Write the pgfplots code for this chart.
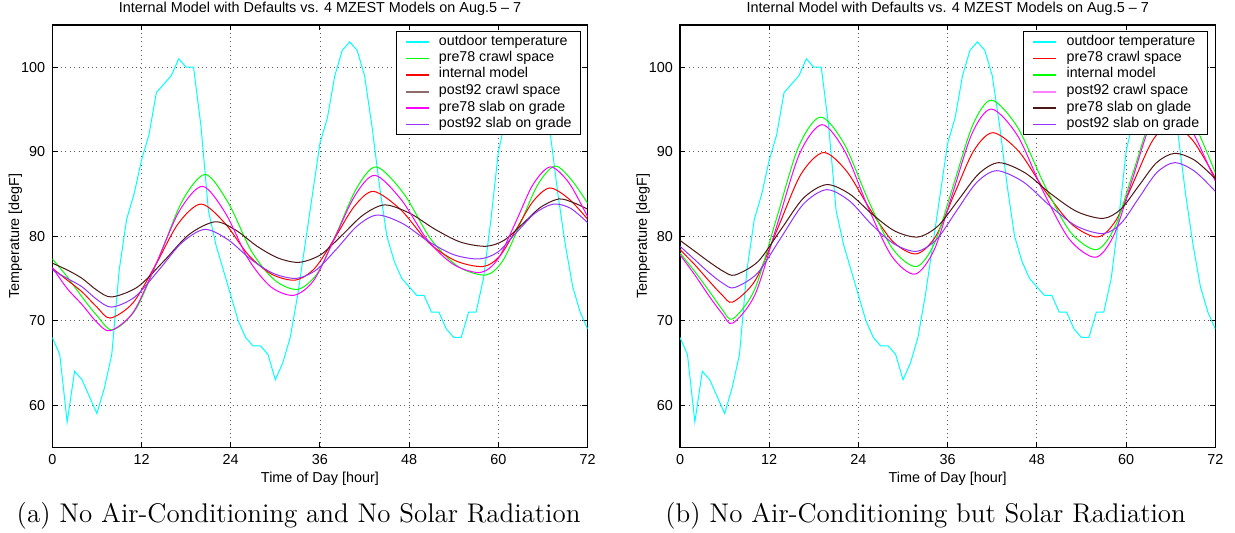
\documentclass[border=0pt]{standalone}
\usepackage{fontspec}
\newfontfamily\helv{Liberation Sans}
\usepackage{pgfplots}
\usepackage{pgfplotstable}
\pgfplotsset{compat=1.18}
\definecolor{cyanL}{rgb}{0,1,1}
\definecolor{greenL}{rgb}{0,1,0}
\definecolor{redL}{rgb}{1,0,0}
\definecolor{brownL}{rgb}{0.3,0.09,0.09}
\definecolor{brownLeg}{rgb}{0.55,0.42,0.42}
\definecolor{magL}{rgb}{1,0,1}
\definecolor{magLeg}{rgb}{1,0.5,1}
\definecolor{purL}{rgb}{0.58,0.2,1}
\newcommand\pf{\helv\fontsize{7.2}{8.6}\selectfont}

\pgfplotstableread{
h v
0 68
1 66
2 58
3 64
4 63
5 61
6 59
7 62
8 66
9 76
10 82
11 85
12 89
13 92
14 97
15 98
16 99
17 101
18 100
19 100
20 93
21 83
22 79
23 76
24 73
25 70
26 68
27 67
28 67
29 66
30 63
31 65
32 68
33 73
34 79
35 85
36 91
37 94
38 99
39 102
40 103
41 102
42 99
43 93
44 86
45 80
46 77
47 75
48 74
49 73
50 73
51 71
52 71
53 69
54 68
55 68
56 71
57 71
58 75
59 82
60 90
61 94
62 97
63 99
64 100
65 99
66 96
67 92
68 85
69 79
70 74
71 71
72 69
}\outdoor

\pgfplotsset{matlab/.style={
  scale only axis, width=267.65pt, height=211.15pt,
  xmin=0, xmax=72, ymin=55, ymax=105,
  xtick={0,12,...,72}, ytick={60,70,...,100},
  grid=major,
  grid style={dash pattern=on 0.5pt off 1.7pt, color=black!65},
  tick align=inside, major tick length=2.6pt,
  tick style={black, line width=0.5pt},
  axis line style={line width=0.7pt},
  /pgf/number format/assume math mode=true,
  ticklabel style={font=\pf},
  label style={font=\pf},
  every axis title/.style={at={(0.5,1)}, anchor=base, yshift=6pt, font=\pf},
  xlabel style={yshift=3pt},
  ylabel style={at={(axis description cs:-0.069,0.5)}, anchor=center},
  xlabel={Time of Day [hour]},
  ylabel={Temperature [degF]},
  title={Internal Model with Defaults vs. 4 MZEST Models on Aug.5 – 7},
  legend cell align=left,
  legend image code/.code={\draw[##1] (0pt,0pt) -- (11.5pt,0pt);},
  legend style={at={(1,1)}, anchor=north east, xshift=-3.45pt, yshift=-3.15pt,
    font=\helv\fontsize{7.1}{8.25}\selectfont, draw=black, line width=0.5pt,
    inner xsep=4.3pt, inner ysep=1pt, row sep=0pt,
    nodes={inner sep=0pt, text height=5.6pt, text depth=2.65pt},
    /tikz/column sep=4.6pt},
  every axis plot/.append style={line width=0.5pt, smooth},
}}

\begin{document}
\begin{tikzpicture}
\useasboundingbox (0,0) rectangle (617.5pt,266.5pt);

\begin{axis}[matlab, at={(26.15pt,42.85pt)}, anchor=south west]
\addplot[cyanL, sharp plot, forget plot] table[x=h,y=v] {\outdoor};
\addplot[greenL, forget plot] coordinates {(0,77.3)(2,75.2)(4,72.8)(6,70.6)(8.1,68.9)(11.2,71.3)(14.35,77.5)(17.5,84.2)(20.6,87.3)(23.7,83.9)(26.8,78.2)(29.9,74.8)(33.0,73.7)(35.65,75.6)(38.3,80.5)(40.95,85.7)(43.6,88.2)(47.3,85.0)(50.95,79.6)(54.6,76.4)(58.3,75.4)(60.6,77.1)(62.95,81.5)(65.3,86.1)(67.6,88.3)(69.8,86.7)(72,83.9)};
\addplot[redL, forget plot] coordinates {(0,76.2)(2,74.8)(4,73.4)(6,71.6)(7.8,70.3)(10.85,72.1)(13.9,76.6)(16.95,81.5)(20.0,83.8)(23.2,81.55)(26.35,77.8)(29.5,75.5)(32.7,74.8)(35.3,76.2)(37.95,79.7)(40.6,83.5)(43.2,85.3)(46.9,83.1)(50.55,79.3)(54.2,77.1)(57.9,76.4)(60.15,77.6)(62.4,80.8)(64.65,84.1)(66.9,85.7)(69.5,84.4)(72,82.0)};
\addplot[brownL, forget plot] coordinates {(0,76.8)(2,76.0)(4,75.0)(6,73.6)(8.0,72.8)(11.5,74.0)(14.95,77.0)(18.4,80.2)(21.9,81.7)(24.7,80.7)(27.55,78.8)(30.4,77.4)(33.2,76.9)(36.1,77.8)(38.95,80.1)(41.8,82.5)(44.7,83.7)(48.1,82.7)(51.5,80.8)(54.9,79.3)(58.3,78.8)(60.75,79.5)(63.2,81.4)(65.65,83.4)(68.1,84.4)(70,84.0)(72,83.2)};
\addplot[magL, forget plot] coordinates {(0,76.3)(2,73.8)(4,71.9)(6,69.8)(7.8,68.8)(10.9,71.0)(14.0,76.8)(17.1,83.0)(20.2,85.9)(23.3,82.7)(26.35,77.3)(29.4,74.0)(32.5,73.0)(35.2,74.8)(37.95,79.7)(40.7,84.8)(43.4,87.2)(46.95,84.3)(50.5,79.5)(54.05,76.6)(57.6,75.7)(59.95,77.3)(62.3,81.6)(64.65,86.1)(67.0,88.2)(69.5,86.3)(72,82.3)};
\addplot[purL, forget plot] coordinates {(0,76.0)(2,75.0)(4,74.0)(6,72.5)(8.0,71.6)(11.1,72.8)(14.25,75.9)(17.4,79.2)(20.5,80.8)(23.6,79.6)(26.65,77.3)(29.7,75.6)(32.8,75.0)(35.5,76.0)(38.25,78.5)(41.0,81.2)(43.7,82.5)(47.1,81.5)(50.55,79.4)(54.0,77.8)(57.4,77.3)(59.9,78.1)(62.4,80.4)(64.9,82.7)(67.4,83.8)(69.7,83.3)(72,81.6)};
\addlegendimage{cyanL, line width=1pt}
\addlegendentry{outdoor temperature}
\addlegendimage{greenL, line width=0.6pt}
\addlegendentry{pre78 crawl space}
\addlegendimage{redL, line width=0.6pt}
\addlegendentry{internal model}
\addlegendimage{brownLeg, line width=1pt}
\addlegendentry{post92 crawl space}
\addlegendimage{magL, line width=0.6pt}
\addlegendentry{pre78 slab on grade}
\addlegendimage{purL, line width=0.6pt}
\addlegendentry{post92 slab on grade}
\end{axis}

\begin{axis}[matlab, at={(340pt,42.85pt)}, anchor=south west]
\addplot[cyanL, sharp plot, forget plot] table[x=h,y=v] {\outdoor};
\addplot[redL, forget plot] coordinates {(0,78.4)(2,76.6)(4,74.6)(5.7,73.0)(7.1,72.2)(10.15,74.8)(13.2,81.05)(16.25,87.3)(19.3,89.9)(22.4,87.7)(25.55,83.2)(28.7,79.3)(31.8,77.9)(34.4,80.0)(36.95,85.1)(39.5,90.1)(42.1,92.25)(45.6,90.0)(49.15,85.3)(52.7,81.4)(56.2,79.9)(58.65,81.9)(61.1,86.6)(63.55,91.3)(66.0,93.3)(69,91.3)(72,86.9)};
\addplot[greenL, forget plot] coordinates {(0,78.0)(2,75.8)(4,73.4)(5.7,71.3)(7.1,70.2)(10.05,73.7)(13.0,82.15)(15.95,90.6)(18.9,94.1)(22.1,90.9)(25.35,84.2)(28.6,78.5)(31.8,76.4)(34.3,79.3)(36.85,86.25)(39.4,93.2)(41.9,96.1)(45.4,92.9)(48.95,86.2)(52.5,80.5)(56.0,78.4)(58.5,81.1)(61.0,87.7)(63.5,94.3)(66.0,96.8)(69,93.6)(72,87.5)};
\addplot[magL, forget plot] coordinates {(0,77.8)(2,75.4)(4,72.8)(5.7,70.8)(7.1,69.7)(10.1,73.1)(13.1,81.45)(16.1,89.8)(19.1,93.2)(22.2,90.0)(25.35,83.3)(28.5,77.6)(31.6,75.5)(34.2,78.4)(36.75,85.3)(39.3,92.2)(41.9,95.05)(45.4,91.9)(48.9,85.2)(52.4,79.6)(55.9,77.5)(58.4,80.2)(60.85,86.75)(63.3,93.3)(65.8,96.0)(68.8,92.6)(72,86.5)};
\addplot[brownL, forget plot] coordinates {(0,79.5)(2,78.2)(4,76.9)(5.9,75.8)(7.4,75.4)(10.5,77.0)(13.55,80.75)(16.6,84.5)(19.7,86.1)(22.8,85.0)(25.85,82.6)(28.9,80.6)(32.0,79.9)(34.7,81.2)(37.45,84.3)(40.2,87.4)(42.9,88.7)(46.4,87.5)(49.9,85.0)(53.4,82.9)(56.9,82.1)(59.3,83.2)(61.7,85.95)(64.1,88.7)(66.5,89.8)(69.2,89.0)(72,86.8)};
\addplot[purL, forget plot] coordinates {(0,78.8)(2,77.2)(4,75.6)(5.8,74.4)(7.3,73.9)(10.4,75.6)(13.5,79.7)(16.6,83.8)(19.7,85.5)(22.75,84.2)(25.75,81.4)(28.75,79.1)(31.8,78.2)(34.5,79.6)(37.2,83.0)(39.9,86.35)(42.6,87.75)(46.2,86.4)(49.75,83.6)(53.3,81.2)(56.9,80.3)(59.3,81.5)(61.7,84.5)(64.1,87.5)(66.5,88.7)(69.2,87.7)(72,85.3)};
\addlegendimage{cyanL, line width=1pt}
\addlegendentry{outdoor temperature}
\addlegendimage{redL, line width=0.6pt}
\addlegendentry{pre78 crawl space}
\addlegendimage{greenL, line width=0.6pt}
\addlegendentry{internal model}
\addlegendimage{magLeg, line width=1pt}
\addlegendentry{post92 crawl space}
\addlegendimage{brownL, line width=0.6pt}
\addlegendentry{pre78 slab on glade}
\addlegendimage{purL, line width=0.6pt}
\addlegendentry{post92 slab on grade}
\end{axis}

\node[anchor=base, font=\fontsize{13.5}{16}\selectfont] at (149.3pt,5pt) {(a) No Air-Conditioning and No Solar Radiation};
\node[anchor=base, font=\fontsize{13.5}{16}\selectfont] at (462.8pt,5pt) {(b) No Air-Conditioning but Solar Radiation};
\end{tikzpicture}
\end{document}
